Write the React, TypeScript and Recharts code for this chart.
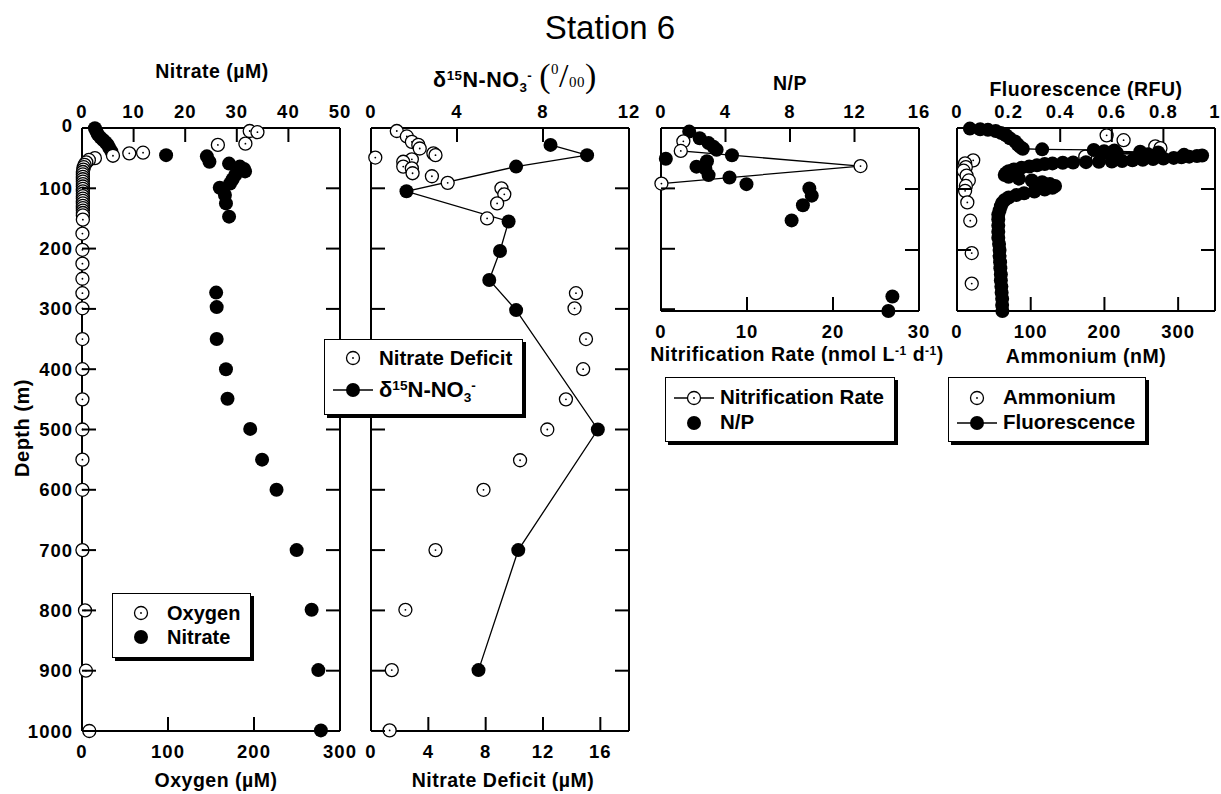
import React from "react"
import { ScatterChart, Scatter, XAxis, YAxis } from "recharts"

const FONT = '"Liberation Sans", Arial, Helvetica, sans-serif'

// every profile is [depth (m), value]
const oxygen = [
  [5, 195], [7, 204], [26, 190], [28, 158], [41, 71], [42, 55], [46, 36], [50, 15], [53, 8], [57, 5],
  [61, 3], [65, 2], [69, 1.5], [73, 1], [77, 1], [81, 1], [85, 1], [89, 1], [93, 1], [97, 1],
  [101, 1], [105, 1], [109, 1], [113, 1], [117, 1], [121, 1], [125, 1], [129, 1], [133, 1], [137, 1],
  [141, 1], [145, 1], [152, 1], [175, 0.5], [202, 0.5], [225, 0.5], [250, 0.5], [274, 0.5], [299, 0.5],
  [350, 0.5], [400, 0.5], [450, 0.5], [500, 0.5], [550, 0.5], [600, 0.5], [700, 0.5], [800, 3.5],
  [900, 4.6], [1000, 8.5],
]
const nitrate = [
  [0.5, 2.5], [6, 2.8], [11, 3.1], [16, 3.6], [20, 4.1], [24, 4.6], [28, 5.0], [33, 5.3], [39, 5.7],
  [45, 16.3], [47, 24.2], [56, 24.7], [59, 28.5], [64, 30.6], [68, 31.4], [72, 31.6], [78, 29.7],
  [85, 29.2], [92, 28.7], [99, 26.7], [111, 27.7], [125, 27.9], [147, 28.5], [273, 26.0], [297, 26.1],
  [350, 26.1], [400, 27.9], [449, 28.2], [499, 32.6], [550, 34.9], [600, 37.7], [700, 41.6],
  [799, 44.5], [899, 45.8], [999, 46.3],
]
const nitrateDeficit = [
  [5, 1.8], [14, 2.5], [23, 2.85], [28, 3.3], [34, 3.4], [42, 4.35], [45, 4.5], [49, 0.3], [52, 2.85],
  [56, 2.25], [64, 2.25], [67, 2.85], [75, 2.9], [80, 4.25], [91, 5.35], [100, 9.1], [110, 9.3],
  [125, 8.8], [150, 8.1], [274, 14.3], [299, 14.2], [350, 15.0], [400, 14.8], [450, 13.6], [500, 12.3],
  [551, 10.4], [600, 7.85], [700, 4.5], [799, 2.4], [899, 1.45], [999, 1.3],
]
const d15n = [
  [28, 8.35], [45, 10.05], [64, 6.75], [105, 1.65], [155, 6.4], [204, 6.0], [252, 5.5], [302, 6.75],
  [500, 10.55], [700, 6.85], [899, 5.0],
]
const nitrification = [[22, 2.6], [38, 2.3], [63, 23.2], [92, 0.05]]
const npRatio = [
  [6, 1.75], [17, 2.4], [25, 2.95], [31, 3.25], [36, 3.45], [45, 4.4], [51, 0.3], [55, 2.85], [64, 2.2],
  [67, 2.75], [78, 2.95], [82, 4.25], [93, 5.3], [100, 9.2], [112, 9.35], [128, 8.8], [153, 8.1],
  [279, 14.35], [303, 14.1],
]
const ammonium = [
  [12, 203], [20, 226], [30, 269], [33, 276], [47, 174], [53, 22], [58, 11], [64, 12], [70, 9], [78, 13],
  [86, 16], [95, 12], [103, 11], [122, 14], [152, 18], [205, 20], [255, 20],
]
const fluorescence = [
  [1, 0.05], [2, 0.09], [3, 0.12], [5, 0.15], [8, 0.17], [12, 0.19], [17, 0.205], [22, 0.225],
  [27, 0.235], [31, 0.245], [34, 0.255], [35, 0.33], [36, 0.53], [37, 0.61], [38, 0.57], [39, 0.71],
  [40, 0.78], [41, 0.62], [42, 0.56], [43, 0.74], [44, 0.88], [45, 0.95], [46, 0.93], [47, 0.9],
  [48, 0.87], [49, 0.84], [50, 0.8], [51, 0.76], [52, 0.72], [53, 0.68], [54, 0.64], [55, 0.6],
  [55.5, 0.55], [56, 0.5], [56.5, 0.45], [57, 0.41], [58, 0.37], [59, 0.34], [61, 0.31], [63, 0.28],
  [65, 0.25], [68, 0.22], [71, 0.2], [74, 0.19], [77, 0.185], [80, 0.2], [83, 0.24], [86, 0.29],
  [89, 0.33], [92, 0.36], [95, 0.38], [98, 0.37], [101, 0.34], [104, 0.3], [107, 0.26], [110, 0.23],
  [114, 0.2], [118, 0.185], [123, 0.175], [128, 0.17], [135, 0.165], [142, 0.16], [150, 0.16],
  [160, 0.16], [170, 0.16], [180, 0.16], [190, 0.163], [200, 0.165], [210, 0.165], [220, 0.167],
  [230, 0.168], [240, 0.17], [250, 0.17], [260, 0.172], [270, 0.173], [280, 0.175], [290, 0.175],
  [300, 0.176],
]

const deepTicks = [0, 100, 200, 300, 400, 500, 600, 700, 800, 900, 1000]
const shallowTicks = [0, 100, 200, 300]
const nitrateTicks = [0, 10, 20, 30, 40, 50]
const oxygenTicks = [0, 100, 200, 300]
const d15nTicks = [0, 4, 8, 12]
const deficitTicks = [0, 4, 8, 12, 16]
const npTicks = [0, 4, 8, 12, 16]
const nitrifTicks = [0, 10, 20, 30]
const fluorTicks = [0, 0.2, 0.4, 0.6, 0.8, 1]
const ammoniumTicks = [0, 100, 200, 300]

const toPoints = (rows: number[][]) => rows.map(([depth, value]) => ({ x: value, y: depth }))

const AXIS = { stroke: "#000", strokeWidth: 2 }
const TICK_LEN = 14

type Side = "left" | "right" | "top" | "bottom"

const makeTick = (side: Side, showLabel: boolean) => (props: any) => {
  const { x, y, payload } = props
  const v: number = payload.value
  let x2 = x
  let y2 = y
  let tx = x
  let ty = y
  let anchor: "start" | "middle" | "end" = "middle"
  if (side === "left") {
    x2 = x + TICK_LEN
    tx = x - 9
    anchor = "end"
    if (v === 0) ty = y - 3
  }
  if (side === "right") x2 = x - TICK_LEN
  if (side === "top") {
    y2 = y + TICK_LEN
    ty = y - 17
  }
  if (side === "bottom") {
    y2 = y - TICK_LEN
    ty = y + 20
  }
  return (
    <g>
      <line x1={x} y1={y} x2={x2} y2={y2} stroke="#000" strokeWidth={2} />
      {showLabel && (
        <text
          x={tx}
          y={ty}
          textAnchor={anchor}
          dominantBaseline="central"
          fontFamily={FONT}
          fontWeight={700}
          fontSize={18.5}
          letterSpacing={1}
          fill="#000"
        >
          {String(v)}
        </text>
      )}
    </g>
  )
}

const OpenDot = (props: any) => {
  const { cx, cy } = props
  if (cx == null || cy == null) return <g />
  return (
    <g>
      <circle cx={cx} cy={cy} r={6.5} fill="#fff" stroke="#000" strokeWidth={1.3} />
      <circle cx={cx} cy={cy} r={0.9} fill="#000" />
    </g>
  )
}

const FilledDot = (props: any) => {
  const { cx, cy } = props
  if (cx == null || cy == null) return <g />
  return <circle cx={cx} cy={cy} r={7} fill="#000" />
}

const PAD = { l: 80, r: 20, t: 40, b: 40 }

interface PanelProps {
  left: number
  top: number
  width: number
  height: number
  depthMax: number
  depthTicks: number[]
  depthLabels: boolean
  topDomain: number[]
  topTicks: number[]
  bottomDomain: number[]
  bottomTicks: number[]
  children: React.ReactNode
}

const Panel: React.FC<PanelProps> = (p) => (
  <div style={{ position: "absolute", left: p.left - PAD.l, top: p.top - PAD.t }}>
    <ScatterChart
      width={p.width + PAD.l + PAD.r}
      height={p.height + PAD.t + PAD.b}
      margin={{ top: 0, right: 0, bottom: 0, left: 0 }}
    >
      <XAxis
        xAxisId="top"
        orientation="top"
        type="number"
        dataKey="x"
        domain={p.topDomain}
        ticks={p.topTicks}
        interval={0}
        height={PAD.t}
        tickSize={0}
        tickMargin={0}
        tickLine={false}
        axisLine={AXIS}
        tick={makeTick("top", true)}
      />
      <XAxis
        xAxisId="bottom"
        orientation="bottom"
        type="number"
        dataKey="x"
        domain={p.bottomDomain}
        ticks={p.bottomTicks}
        interval={0}
        height={PAD.b}
        tickSize={0}
        tickMargin={0}
        tickLine={false}
        axisLine={AXIS}
        tick={makeTick("bottom", true)}
      />
      <YAxis
        yAxisId="left"
        orientation="left"
        type="number"
        dataKey="y"
        domain={[0, p.depthMax]}
        reversed
        ticks={p.depthTicks}
        interval={0}
        width={PAD.l}
        tickSize={0}
        tickMargin={0}
        tickLine={false}
        axisLine={AXIS}
        tick={makeTick("left", p.depthLabels)}
      />
      <YAxis
        yAxisId="right"
        orientation="right"
        type="number"
        domain={[0, p.depthMax]}
        allowDataOverflow
        reversed
        ticks={p.depthTicks}
        interval={0}
        width={PAD.r}
        tickSize={0}
        tickMargin={0}
        tickLine={false}
        axisLine={AXIS}
        tick={makeTick("right", false)}
      />
      {p.children}
    </ScatterChart>
  </div>
)

const labelStyle = (cx: number, cy: number, size = 19.5): React.CSSProperties => ({
  position: "absolute",
  left: cx,
  top: cy,
  transform: "translate(-50%, -50%)",
  fontFamily: FONT,
  fontWeight: 700,
  fontSize: size,
  letterSpacing: 0.5,
  lineHeight: 1,
  whiteSpace: "nowrap",
})

const supStyle: React.CSSProperties = { fontSize: "0.62em", verticalAlign: "0.55em", lineHeight: 0 }
const subStyle: React.CSSProperties = { fontSize: "0.62em", verticalAlign: "-0.35em", lineHeight: 0 }

const LINE_STYLE = { stroke: "#000", strokeWidth: 1.3 }

const Marker = ({ kind, line }: { kind: "open" | "filled"; line: boolean }) => (
  <svg width={48} height={22} style={{ display: "block" }}>
    {line && <line x1={4} x2={44} y1={11} y2={11} stroke="#000" strokeWidth={1.3} />}
    {kind === "open" ? <OpenDot cx={24} cy={11} /> : <FilledDot cx={24} cy={11} />}
  </svg>
)

interface LegendRow {
  kind: "open" | "filled"
  line: boolean
  text: React.ReactNode
}

const LegendBox = ({ left, top, rows, rowH, padTop, padBottom, size }: {
  left: number
  top: number
  rows: LegendRow[]
  rowH: number
  padTop: number
  padBottom: number
  size: number
}) => (
  <div
    style={{
      position: "absolute",
      left,
      top,
      background: "#fff",
      border: "1.5px solid #000",
      boxShadow: "3px 3px 0 #000",
      padding: `${padTop}px 10px ${padBottom}px 4px`,
      fontFamily: FONT,
      fontWeight: 700,
      fontSize: size,
      whiteSpace: "nowrap",
    }}
  >
    {rows.map((r, i) => (
      <div key={i} style={{ display: "flex", alignItems: "center", height: rowH }}>
        <Marker kind={r.kind} line={r.line} />
        <span style={{ marginLeft: 2, lineHeight: 1 }}>{r.text}</span>
      </div>
    ))}
  </div>
)

const App: React.FC = () => {
  return (
    <div style={{ position: "absolute", left: 0, top: 0, width: 1221, height: 794, background: "#fff", overflow: "hidden" }}>
      <div style={{ ...labelStyle(610, 27, 33), fontWeight: 400, letterSpacing: 0 }}>Station 6</div>

      <Panel
        left={82} top={128} width={258} height={603}
        depthMax={1000} depthTicks={deepTicks} depthLabels
        topDomain={[0, 50]} topTicks={nitrateTicks}
        bottomDomain={[0, 300]} bottomTicks={oxygenTicks}
      >
        <Scatter data={toPoints(nitrate)} xAxisId="top" yAxisId="left" shape={FilledDot} isAnimationActive={false} />
        <Scatter data={toPoints(oxygen)} xAxisId="bottom" yAxisId="left" shape={OpenDot} isAnimationActive={false} />
      </Panel>

      <Panel
        left={371} top={128} width={258} height={603}
        depthMax={1000} depthTicks={deepTicks} depthLabels={false}
        topDomain={[0, 12]} topTicks={d15nTicks}
        bottomDomain={[0, 18]} bottomTicks={deficitTicks}
      >
        <Scatter data={toPoints(d15n)} xAxisId="top" yAxisId="left" shape={FilledDot} line={LINE_STYLE} isAnimationActive={false} />
        <Scatter data={toPoints(nitrateDeficit)} xAxisId="bottom" yAxisId="left" shape={OpenDot} isAnimationActive={false} />
      </Panel>

      <Panel
        left={661} top={128} width={258} height={183}
        depthMax={300} depthTicks={shallowTicks} depthLabels={false}
        topDomain={[0, 16]} topTicks={npTicks}
        bottomDomain={[0, 30]} bottomTicks={nitrifTicks}
      >
        <Scatter data={toPoints(npRatio)} xAxisId="top" yAxisId="left" shape={FilledDot} isAnimationActive={false} />
        <Scatter data={toPoints(nitrification)} xAxisId="bottom" yAxisId="left" shape={OpenDot} line={LINE_STYLE} isAnimationActive={false} />
      </Panel>

      <Panel
        left={957} top={128} width={258} height={183}
        depthMax={300} depthTicks={shallowTicks} depthLabels={false}
        topDomain={[0, 1]} topTicks={fluorTicks}
        bottomDomain={[0, 350]} bottomTicks={ammoniumTicks}
      >
        <Scatter data={toPoints(ammonium)} xAxisId="bottom" yAxisId="left" shape={OpenDot} isAnimationActive={false} />
        <Scatter data={toPoints(fluorescence)} xAxisId="top" yAxisId="left" shape={FilledDot} line={LINE_STYLE} isAnimationActive={false} />
      </Panel>

      {/* axis titles */}
      <div style={labelStyle(212, 72)}>Nitrate (µM)</div>
      <div style={labelStyle(515, 76, 21.5)}>
        δ<span style={supStyle}>15</span>N-NO<span style={subStyle}>3</span>
        <span style={supStyle}>-</span>
        <span style={{ fontFamily: '"Liberation Serif", "Times New Roman", serif', fontWeight: 400, fontSize: 34, marginLeft: 7 }}>
          (<span style={{ fontSize: 15, verticalAlign: "0.9em" }}>0</span>/<span style={{ fontSize: 15 }}>00</span>)
        </span>
      </div>
      <div style={labelStyle(790, 84)}>N/P</div>
      <div style={labelStyle(1086, 90)}>Fluorescence (RFU)</div>
      <div style={labelStyle(216, 781)}>Oxygen (µM)</div>
      <div style={labelStyle(503, 781)}>Nitrate Deficit (µM)</div>
      <div style={labelStyle(797, 355)}>
        Nitrification Rate (nmol L<span style={supStyle}>-1</span> d<span style={supStyle}>-1</span>)
      </div>
      <div style={labelStyle(1086, 357)}>Ammonium (nM)</div>
      <div style={{ ...labelStyle(22, 428, 20), transform: "translate(-50%, -50%) rotate(-90deg)" }}>Depth (m)</div>

      {/* legends */}
      <LegendBox
        left={112} top={593} rowH={24} padTop={7} padBottom={8} size={20}
        rows={[
          { kind: "open", line: false, text: "Oxygen" },
          { kind: "filled", line: false, text: "Nitrate" },
        ]}
      />
      <LegendBox
        left={324} top={339} rowH={32} padTop={2} padBottom={8} size={20.5}
        rows={[
          { kind: "open", line: false, text: "Nitrate Deficit" },
          {
            kind: "filled",
            line: true,
            text: (
              <span style={{ fontSize: 22 }}>
                δ<span style={supStyle}>15</span>N-NO<span style={subStyle}>3</span><span style={supStyle}>-</span>
              </span>
            ),
          },
        ]}
      />
      <LegendBox
        left={665} top={377} rowH={25} padTop={7} padBottom={6} size={20.5}
        rows={[
          { kind: "open", line: true, text: "Nitrification Rate" },
          { kind: "filled", line: false, text: "N/P" },
        ]}
      />
      <LegendBox
        left={948} top={377} rowH={25} padTop={7} padBottom={6} size={20.5}
        rows={[
          { kind: "open", line: false, text: "Ammonium" },
          { kind: "filled", line: true, text: "Fluorescence" },
        ]}
      />
    </div>
  )
}

export default App
